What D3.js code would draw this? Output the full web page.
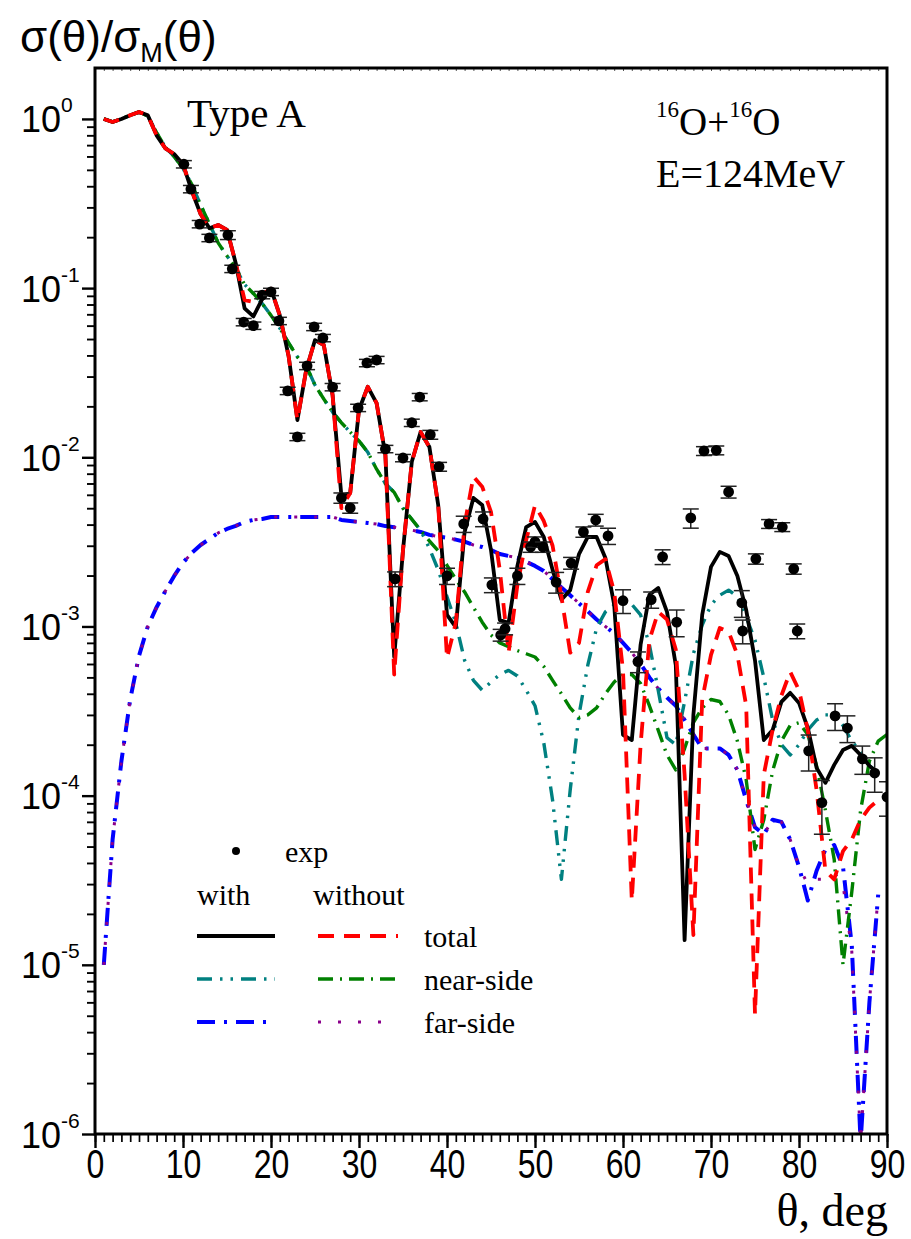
<!DOCTYPE html>
<html>
<head>
<meta charset="utf-8">
<script src="https://cdn.jsdelivr.net/npm/d3@7"></script>
<style>
  body { margin: 0; background: #fff; }
  svg { display: block; }
</style>
</head>
<body>
<svg id="chart" width="911" height="1239"></svg>
<script>
// Scattering angles (deg) at which the calculated curves are tabulated
const angles = [1,2,3,4,5,6,7,8,9,10,11,12,13,14,15,16,17,18,19,20,21,22,23,24,25,26,27,28,29,30,
  31,32,33,34,35,36,37,38,39,40,41,42,43,44,45,46,47,48,49,50,51,52,53,54,55,56,57,58,59,60,
  61,62,63,64,65,66,67,68,69,70,71,72,73,74,75,76,77,78,79,80,81,82,83,84,85,86,87,88,89,90];

// Total cross section ratio, with the coupling
const totalWith = [1.0,0.96,1.0,1.05,1.10,1.05,0.80,0.67,0.62,0.54,
  0.375,0.274,0.226,0.236,0.221,0.14,0.076,0.068,0.086,0.099,
  0.069,0.0397,0.0166,0.0328,0.0493,0.0461,0.0233,0.0059,0.00615,0.0191,
  0.0261,0.0209,0.0103,0.00066,0.00283,0.0094,0.0141,0.0115,0.00522,0.00117,
  0.00099,0.00362,0.00575,0.00523,0.00283,0.00109,0.00105,0.00228,0.00387,0.00415,
  0.00338,0.00216,0.00144,0.00164,0.00268,0.00338,0.00338,0.00254,0.00134,0.000229,
  0.000213,0.00078,0.00154,0.00169,0.00122,0.00059,0.000014,0.0003,0.00117,0.00225,
  0.00276,0.00261,0.00199,0.00125,0.00063,0.000213,0.000244,0.000358,0.000405,0.000353,
  0.000251,0.000146,0.000119,0.000152,0.000186,0.000197,0.000174,0.00015,0.000136,null];

// Total cross section ratio, without the coupling
const totalWithout = [1.0,0.96,1.0,1.05,1.10,1.05,0.80,0.67,0.62,0.54,
  0.375,0.274,0.226,0.236,0.221,0.14,0.085,0.083,0.092,0.099,
  0.069,0.0397,0.0166,0.0328,0.0493,0.0461,0.0233,0.0050,0.00615,0.0191,
  0.0261,0.0209,0.0103,0.00052,0.00283,0.0094,0.0141,0.0115,0.00522,0.00065,
  0.00105,0.0040,0.0077,0.0067,0.00475,0.00216,0.0007,0.00176,0.00324,0.0052,
  0.0042,0.0030,0.0015,0.0007,0.0008,0.0016,0.0023,0.0025,0.0016,0.00055,
  0.000024,0.0002,0.00083,0.00122,0.0011,0.00073,0.000133,0.000015,0.00037,0.00068,
  0.00098,0.00093,0.00068,0.00034,0.0000051,0.000133,0.000244,0.00039,0.00054,0.00042,
  0.000244,0.000108,0.000036,0.000032,0.000047,0.000055,0.000072,0.000085,0.000094,0.0001];

// Near-side component, with the coupling
const nearWith = [1.0,0.96,1.0,1.05,1.10,1.04,0.83,0.68,0.60,0.51,
  0.41,0.31,0.24,0.185,0.155,0.131,0.105,0.093,0.081,0.069,
  0.058,0.0474,0.0392,0.0347,0.0267,0.0221,0.0185,0.0160,0.0141,0.0125,
  0.0107,0.0085,0.0070,0.0062,0.0050,0.0043,0.0037,0.0029,0.00216,0.0015,
  0.00105,0.00063,0.00048,0.00042,0.00047,0.00052,0.00055,0.00051,0.00042,0.00034,
  0.000205,0.000094,0.000032,0.000108,0.0003,0.00059,0.00098,0.00122,0.00134,0.00137,
  0.00135,0.00117,0.00078,0.00042,0.00022,0.0002,0.00036,0.00069,0.00102,0.00134,
  0.00153,0.00164,0.0015,0.00114,0.00083,0.0005,0.00028,0.0002,0.000174,0.0002,
  0.000244,0.00028,0.0003,0.0003,0.00026,0.00021,0.00018,0.00015,0.000137,null];

// Near-side component, without the coupling
const nearWithout = [1.0,0.96,1.0,1.05,1.10,1.04,0.83,0.68,0.60,0.51,
  0.41,0.31,0.24,0.185,0.155,0.131,0.105,0.093,0.081,0.069,
  0.058,0.0474,0.0392,0.0347,0.0267,0.0221,0.0185,0.0160,0.0141,0.0125,
  0.0107,0.0085,0.0070,0.0062,0.0050,0.0043,0.0037,0.0032,0.0028,0.0023,
  0.0019,0.0016,0.0013,0.00106,0.00089,0.0008,0.00076,0.00072,0.00069,0.00066,
  0.00058,0.00048,0.0004,0.00033,0.00029,0.0003,0.00033,0.0004,0.00047,0.00052,
  0.00052,0.00046,0.00034,0.000244,0.000174,0.000142,0.00019,0.00027,0.00033,0.00037,
  0.00036,0.0003,0.00021,0.000124,0.000048,0.000072,0.00014,0.00021,0.00026,0.00027,
  0.00023,0.00015,0.000082,0.000042,0.00001,0.000027,0.000082,0.00016,0.00021,0.00023];

// Far-side component, with the coupling
const farWith = [0.00001,0.000055,0.00016,0.00037,0.00067,0.001,0.0013,0.00162,0.00199,0.00238,
  0.00272,0.00303,0.00329,0.00357,0.00377,0.00393,0.00415,0.00426,0.00432,0.00444,
  0.00444,0.00444,0.00444,0.00444,0.00444,0.00444,0.00444,0.00426,0.0042,0.00415,
  0.00409,0.00403,0.00392,0.00386,0.00377,0.00371,0.00362,0.00348,0.0034,0.00335,
  0.00326,0.00317,0.00303,0.00295,0.00283,0.00268,0.00261,0.00254,0.00241,0.00228,
  0.00213,0.0019,0.0017,0.00153,0.00137,0.00123,0.0011,0.001,0.00091,0.0008,
  0.0007,0.0006,0.0005,0.00043,0.00038,0.00034,0.00028,0.00023,0.00019,0.00019,
  0.00019,0.000174,0.000142,0.000094,0.000065,0.000059,0.000072,0.00007,0.000055,0.000038,
  0.000024,0.000036,0.000048,0.000051,0.000038,0.000013,0.0000009,0.000006,0.000026,null];

// Far-side component, without the coupling
const farWithout = [0.00001,0.000055,0.00016,0.00037,0.00067,0.001,0.0013,0.00162,0.00199,0.00238,
  0.00272,0.00303,0.00329,0.00357,0.00377,0.00393,0.00415,0.00426,0.00432,0.00444,
  0.00444,0.00444,0.00444,0.00444,0.00444,0.00444,0.00444,0.00426,0.0042,0.00415,
  0.00409,0.00403,0.00392,0.00386,0.00377,0.00371,0.00362,0.00348,0.0034,0.00335,
  0.00326,0.00317,0.00303,0.00295,0.00283,0.00268,0.00261,0.00254,0.00241,0.00228,
  0.00213,0.0019,0.0017,0.00153,0.00137,0.00123,0.0011,0.001,0.00091,0.0008,
  0.0007,0.0006,0.0005,0.00043,0.00038,0.00034,0.00028,0.00023,0.00019,0.00019,
  0.00019,0.000174,0.000142,0.000094,0.000065,0.000059,0.000072,0.00007,0.000055,0.000038,
  0.00003,0.000032,0.000032,0.000035,0.00003,0.000012,0.0000009,0.000006,0.000026,null];

// Measured points: angle, ratio, relative error (%)
const expAngles = [10.1,10.9,11.9,13.0,15.1,15.6,16.9,18.0,19.0,20.0,20.9,21.9,23.0,24.1,24.9,25.9,27.0,
  28.0,29.0,29.9,30.9,32.0,33.0,34.1,35.0,36.0,36.9,38.1,39.1,40.0,41.9,44.1,45.1,46.1,46.6,
  48.0,49.5,50.0,50.9,52.4,54.1,55.5,56.9,58.3,60.0,61.7,63.2,64.5,66.1,67.7,69.2,70.6,72.0,
  73.5,73.6,75.1,76.6,78.1,79.4,79.8,81.1,82.6,84.1,85.5,87.2,88.6,90.0];
const expValues = [0.54,0.385,0.239,0.198,0.206,0.13,0.063,0.060,0.091,0.095,0.064,0.0247,0.0132,0.0347,0.059,0.0507,0.026,
  0.00575,0.00502,0.0196,0.0361,0.0376,0.0112,0.00191,0.0099,0.016,0.0227,0.0136,0.0088,0.00199,0.00404,0.00432,0.00176,0.00089,0.00097,
  0.00199,0.00295,0.00316,0.00295,0.00183,0.00237,0.00362,0.00426,0.00343,0.00142,0.00062,0.00144,0.00258,0.00106,0.00438,0.0109,0.0110,0.00624,
  0.00138,0.00094,0.00251,0.00404,0.00387,0.00219,0.00094,0.000184,0.000091,0.000296,0.000251,0.000165,0.000136,0.0000982];
const expErrPct = [5,5,5,5,6,5,5,5,5,5,5,5,5,5,5,5,5,
  7,7,5,5,5,5,10,5,5,5,6,6,11,11,10,10,8,8,
  11,7,7,7,14,8,7,8,11,16,14,11,10,18,13,6,6,8,
  18,16,7,6,6,7,10,24,35,18,18,19,23,23];

// Decade tick values and x tick values
const yDecades = [1, 1e-1, 1e-2, 1e-3, 1e-4, 1e-5, 1e-6];
const xMajorTicks = [0,10,20,30,40,50,60,70,80,90];

// ---------------------------------------------------------------------------
const plot = { left: 95, right: 887, top: 68, bottom: 1134 };
const svg = d3.select("#chart");

const x = d3.scaleLinear().domain([0, 90]).range([plot.left, plot.right]);
const y = d3.scaleLog().domain([1e-6, 2]).range([plot.bottom, plot.top]);

const sans = "'Liberation Sans', Arial, sans-serif";
const serif = "'Liberation Serif', 'Times New Roman', serif";

svg.append("defs").append("clipPath").attr("id", "plotClip")
  .append("rect")
  .attr("x", plot.left).attr("y", plot.top)
  .attr("width", plot.right - plot.left).attr("height", plot.bottom - plot.top);

// ---- axes -------------------------------------------------------------------
const minorX = d3.range(0, 91);
const minorY = [];
yDecades.slice(1).forEach(d => { for (let k = 2; k <= 9; k++) minorY.push(d * k); });
const minorYVisible = minorY.filter(v => v <= 2);

// bottom: one-degree minor ticks, then labelled major ticks
svg.append("g").attr("transform", `translate(0,${plot.bottom})`)
  .call(d3.axisBottom(x).tickValues(minorX).tickSize(8).tickFormat(""))
  .call(g => g.select(".domain").remove())
  .call(g => g.selectAll("line").attr("stroke-width", 1.7));

svg.append("g").attr("transform", `translate(0,${plot.bottom})`)
  .call(d3.axisBottom(x).tickValues(xMajorTicks).tickSize(14).tickPadding(2).tickFormat(d3.format("d")))
  .call(g => g.select(".domain").remove())
  .call(g => g.selectAll("line").attr("stroke-width", 2.4))
  .call(g => g.selectAll("text")
    .attr("font-family", sans).attr("font-size", 40).attr("fill", "#000")
    .attr("transform", "scale(0.8,1)"));

// top: small inward ticks
svg.append("g").attr("transform", `translate(0,${plot.top})`)
  .call(d3.axisTop(x).tickValues(minorX).tickSize(-3).tickFormat(""))
  .call(g => g.select(".domain").remove())
  .call(g => g.selectAll("line").attr("stroke", "#555").attr("stroke-width", 1));

// left: minor ticks, then decades with labels
svg.append("g").attr("transform", `translate(${plot.left},0)`)
  .call(d3.axisLeft(y).tickValues(minorYVisible).tickSize(8).tickFormat(""))
  .call(g => g.select(".domain").remove())
  .call(g => g.selectAll("line").attr("stroke-width", 1.9));

const gy = svg.append("g").attr("transform", `translate(${plot.left},0)`)
  .call(d3.axisLeft(y).tickValues(yDecades).tickSize(13).tickFormat(d => String(Math.round(Math.log10(d)))))
  .call(g => g.select(".domain").remove())
  .call(g => g.selectAll("line").attr("stroke-width", 2.4));

gy.attr("text-anchor", "start");
gy.selectAll(".tick text").each(function () {
  const t = d3.select(this);
  const exp = t.text();
  t.text(null)
    .attr("x", -74).attr("dy", null).attr("y", 13)
    .attr("font-family", sans).attr("font-size", 36).attr("fill", "#000");
  t.append("tspan").text("10");
  t.append("tspan").attr("font-size", 21).attr("dy", -20).text(exp);
});

// ---- curves -----------------------------------------------------------------
const curves = [
  { values: farWith,     color: "#0000ff", width: 4.0, dash: "18,9,3,9" },
  { values: farWithout,  color: "#8b008b", width: 3.0, dash: "3,17" },
  { values: nearWith,    color: "#008080", width: 3.4, dash: "15,8,2.5,8,2.5,8" },
  { values: nearWithout, color: "#008000", width: 3.4, dash: "15,7,2,7" },
  { values: totalWith,   color: "#000000", width: 3.8, dash: null },
  { values: totalWithout,color: "#ff0000", width: 3.8, dash: "16,10" }
];

const line = d3.line()
  .defined(d => d[1] != null && d[1] > 0)
  .x(d => x(d[0]))
  .y(d => y(d[1]));

const gCurves = svg.append("g").attr("clip-path", "url(#plotClip)");
curves.forEach(c => {
  gCurves.append("path")
    .datum(angles.map((a, i) => [a, c.values[i]]))
    .attr("d", line)
    .attr("fill", "none")
    .attr("stroke", c.color)
    .attr("stroke-width", c.width)
    .attr("stroke-dasharray", c.dash)
    .attr("stroke-linejoin", "round");
});

// ---- measured points ---------------------------------------------------------
const expData = expAngles.map((a, i) => ({ a, v: expValues[i], e: expErrPct[i] / 100 }));
const gExp = svg.append("g").attr("clip-path", "url(#plotClip)");
const pts = gExp.selectAll("g.pt").data(expData).join("g").attr("class", "pt");
pts.append("line")
  .attr("x1", d => x(d.a)).attr("x2", d => x(d.a))
  .attr("y1", d => y(d.v * (1 + d.e))).attr("y2", d => y(d.v * (1 - d.e)))
  .attr("stroke", "#222").attr("stroke-width", 1.5);
pts.append("line")
  .attr("x1", d => x(d.a) - 8).attr("x2", d => x(d.a) + 8)
  .attr("y1", d => y(d.v * (1 + d.e))).attr("y2", d => y(d.v * (1 + d.e)))
  .attr("stroke", "#222").attr("stroke-width", 1.5);
pts.append("line")
  .attr("x1", d => x(d.a) - 8).attr("x2", d => x(d.a) + 8)
  .attr("y1", d => y(d.v * (1 - d.e))).attr("y2", d => y(d.v * (1 - d.e)))
  .attr("stroke", "#222").attr("stroke-width", 1.5);
pts.append("circle")
  .attr("cx", d => x(d.a)).attr("cy", d => y(d.v)).attr("r", 5.4)
  .attr("fill", "#000");

// ---- frame -----------------------------------------------------------------
svg.append("rect")
  .attr("x", plot.left).attr("y", plot.top)
  .attr("width", plot.right - plot.left).attr("height", plot.bottom - plot.top)
  .attr("fill", "none").attr("stroke", "#000").attr("stroke-width", 3);

// ---- titles and annotations ---------------------------------------------------
const yTitle = svg.append("text")
  .attr("x", 20).attr("y", 52)
  .attr("font-family", sans).attr("font-size", 44).attr("fill", "#000");
yTitle.append("tspan").text("σ(θ)/σ");
yTitle.append("tspan").attr("font-size", 27).attr("dy", 10).text("M");
yTitle.append("tspan").attr("dy", -10).text("(θ)");

svg.append("text")
  .attr("x", 888).attr("y", 1226).attr("text-anchor", "end")
  .attr("font-family", serif).attr("font-size", 46).attr("fill", "#000")
  .text("θ, deg");

svg.append("text")
  .attr("x", 187).attr("y", 127)
  .attr("font-family", serif).attr("font-size", 41).attr("fill", "#000")
  .text("Type A");

const reaction = svg.append("text")
  .attr("x", 656).attr("y", 135)
  .attr("font-family", serif).attr("font-size", 39).attr("fill", "#000");
reaction.append("tspan").attr("font-size", 23).attr("dy", -18).text("16");
reaction.append("tspan").attr("dy", 18).text("O+");
reaction.append("tspan").attr("font-size", 23).attr("dy", -18).text("16");
reaction.append("tspan").attr("dy", 18).text("O");

svg.append("text")
  .attr("x", 656).attr("y", 187)
  .attr("font-family", serif).attr("font-size", 40).attr("fill", "#000")
  .text("E=124MeV");

// ---- legend -----------------------------------------------------------------
const lg = svg.append("g").attr("font-family", serif).attr("font-size", 30).attr("fill", "#000");
lg.append("circle").attr("cx", 236).attr("cy", 851).attr("r", 4).attr("fill", "#000");
lg.append("text").attr("x", 285).attr("y", 862).text("exp");
lg.append("text").attr("x", 197).attr("y", 905).text("with");
lg.append("text").attr("x", 313).attr("y", 905).text("without");

const legendRows = [
  { label: "total",     yy: 936,  withC: curves[4], withoutC: curves[5] },
  { label: "near-side", yy: 979,  withC: curves[2], withoutC: curves[3] },
  { label: "far-side",  yy: 1022, withC: curves[0], withoutC: curves[1] }
];
legendRows.forEach(r => {
  [[r.withC, 197, 275], [r.withoutC, 318, 398]].forEach(([c, x0, x1]) => {
    lg.append("line")
      .attr("x1", x0).attr("x2", x1).attr("y1", r.yy).attr("y2", r.yy)
      .attr("stroke", c.color).attr("stroke-width", c.width)
      .attr("stroke-dasharray", c.dash);
  });
  lg.append("text").attr("x", 424).attr("y", r.yy + 11).text(r.label);
});
</script>
</body>
</html>
